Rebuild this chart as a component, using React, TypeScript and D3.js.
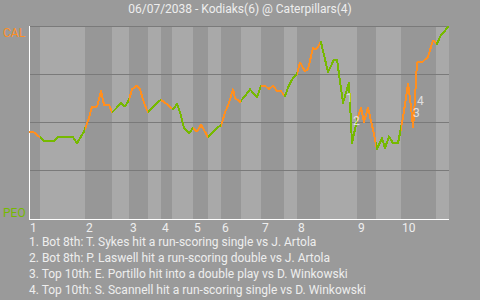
import React from "react";
import * as d3 from "d3";

const title = "06/07/2038 - Kodiaks(6) @ Caterpillars(4)";
const topTeam = "CAL";
const bottomTeam = "PEO";
const inningLabels = ["1", "2", "3", "4", "5", "6", "7", "8", "9", "10"];
// half-inning boundaries, in event units
const halfBounds = [0, 2.75, 14, 20.75, 25, 29.75, 33, 35.75, 41, 44.75, 48, 53, 58, 63.75, 67, 72.75, 82, 86.75, 93, 101.75, 105];
// win probability (%) for top team, [event, pct]
const wpEvent = [0, 1, 2.75, 3.75, 6.25, 7.25, 11, 12, 13.75, 15, 15.75, 17, 18, 18.75, 20, 20.75, 21.75, 23, 24, 25, 25.75, 27, 27.75, 28.75, 29.75, 31, 32.25, 33, 34, 34.75, 35.75, 36.25, 37, 37.75, 38.75, 40, 41, 42, 43, 44, 44.75, 46, 47.25, 48, 49, 50, 51, 51.5, 52.75, 54, 55.25, 57, 58, 59, 60, 61, 62, 63, 64, 64.75, 66, 67, 67.75, 69, 69.75, 71, 71.75, 72.25, 72.75, 73, 74.75, 76.25, 77, 78.5, 80, 80.75, 82, 83, 83.75, 84.75, 86, 87, 88.25, 89, 90, 91, 92.25, 93.25, 94, 94.75, 95.5, 96, 96.25, 97, 98.25, 99.75, 101, 102, 102.75, 103.75, 105];
const wpValue = [45, 45, 42, 40, 40, 42, 42, 39, 45, 52, 58, 58, 66, 59, 59, 55, 57, 60, 58, 61.5, 67, 69, 67, 60, 55, 58, 60.5, 61.5, 60, 59, 57, 57, 59.5, 55, 47, 44, 47, 45, 48.5, 45, 42, 45, 47.5, 48, 55, 60, 67, 62.5, 60.5, 63.5, 67, 63, 69, 69, 67, 69, 66, 66, 63.5, 68, 73, 75, 81, 76.5, 77.5, 88.5, 88, 89, 91, 91.5, 76, 82.5, 82.5, 60, 70.5, 39, 51, 57.5, 50, 57.5, 46, 36, 41.5, 36.5, 42.5, 39, 39, 49.5, 59, 70, 58, 47.5, 53.5, 81, 81, 84, 92.5, 90.5, 94.5, 97, 100];
const noteLabels = ["1", "2", "3", "4"];
const noteEvent = [79.25, 81, 96, 97];
const noteValue = [60.4, 48.4, 52.6, 59];
const legendLines = [
  "1. Bot 8th: T. Sykes hit a run-scoring single vs J. Artola",
  "2. Bot 8th: P. Laswell hit a run-scoring double vs J. Artola",
  "3. Top 10th: E. Portillo hit into a double play vs D. Winkowski",
  "4. Top 10th: S. Scannell hit a run-scoring single vs D. Winkowski",
];
const gridValues = [25, 50, 75, 100];

const W = 480, H = 300;
const left = 29, right = 449, top = 26, bottom = 218;
const BG = "#9a9a9a", DARK = "#979797", LIGHT = "#a9a9a9";
const ORANGE = "#ff8f1f", GREEN = "#76b900", TEXT = "#eeeeee";
const FONT = "Roboto, sans-serif";

export default function App() {
  const x = d3.scaleLinear().domain([0, 105]).range([left, right]);
  const y = d3.scaleLinear().domain([0, 100]).range([bottom, top]);
  const pts: [number, number][] = wpEvent.map((e, i) => [e, wpValue[i]]);
  const line = d3.line<[number, number]>().x(d => x(d[0])).y(d => y(d[1]));
  const path = line(pts) || "";
  const halves = halfBounds.slice(0, -1).map((b, i) => ({ start: b, end: halfBounds[i + 1], i }));

  return (
    <svg width={W} height={H} style={{ position: "absolute", left: 0, top: 0 }} fontFamily={FONT}>
      <defs>
        {halves.map(h => (
          <clipPath key={h.i} id={`clip${h.i}`}>
            <rect x={x(h.start)} y={0} width={x(h.end) - x(h.start)} height={H} />
          </clipPath>
        ))}
      </defs>
      <rect width={W} height={H} fill={BG} />
      {halves.map(h => (
        <rect key={h.i} x={x(h.start)} y={top} width={x(h.end) - x(h.start)} height={bottom + 2 - top}
          fill={h.i % 2 === 0 ? DARK : LIGHT} shapeRendering="crispEdges" />
      ))}
      {gridValues.map(v => (
        <line key={v} x1={left} x2={right} y1={y(v)} y2={y(v)} stroke="#7a7a7a" strokeWidth={1} shapeRendering="crispEdges" />
      ))}
      <line x1={left} x2={left} y1={top} y2={bottom + 2} stroke="#ffffff" strokeWidth={1} shapeRendering="crispEdges" />
      <line x1={left} x2={right} y1={bottom + 1.5} y2={bottom + 1.5} stroke="#ffffff" strokeWidth={1} shapeRendering="crispEdges" />
      <text x={W / 2} y={13} textAnchor="middle" fontSize={12} fill={TEXT}>{title}</text>
      <text x={3} y={37} fontSize={12} fill={ORANGE}>{topTeam}</text>
      <text x={3} y={217} fontSize={12} fill={GREEN}>{bottomTeam}</text>
      {inningLabels.map((l, i) => (
        <text key={l} x={x(halfBounds[i * 2]) + 1} y={232} fontSize={12} fill={TEXT}>{l}</text>
      ))}
      {halves.map(h => (
        <path key={h.i} d={path} fill="none" stroke={h.i % 2 === 0 ? ORANGE : GREEN} strokeWidth={2}
          clipPath={`url(#clip${h.i})`} shapeRendering="crispEdges" strokeLinejoin="round" />
      ))}
      {noteLabels.map((l, i) => (
        <text key={l} x={x(noteEvent[i])} y={y(noteValue[i])} fontSize={12} fill="#f4f4f4" fillOpacity={0.8}>{l}</text>
      ))}
      {legendLines.map((t, i) => (
        <text key={i} x={29} y={246 + i * 16} fontSize={12} fill={TEXT}>{t}</text>
      ))}
    </svg>
  );
}
